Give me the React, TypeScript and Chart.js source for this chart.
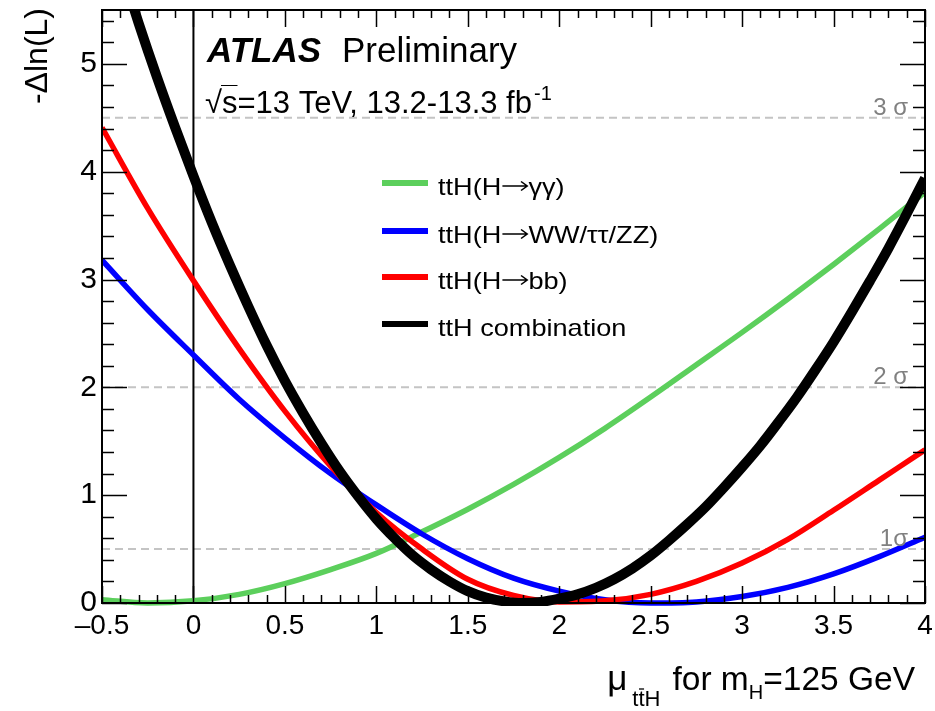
import React, { useEffect, useRef } from 'react';
import { Chart, registerables } from 'chart.js';

Chart.register(...registerables);

const FONT = '"Liberation Sans", Arial, Helvetica, sans-serif';

// Signal strength grid shared by the three channel curves
const muGrid = [-0.5, -0.25, 0, 0.25, 0.5, 0.75, 1, 1.25, 1.5, 1.75, 2, 2.25, 2.5, 2.75, 3, 3.25, 3.5, 3.75, 4];
// -Δln(L) per channel
const nllGammaGamma = [0.03, 0, 0.02, 0.08, 0.18, 0.31, 0.46, 0.66, 0.87, 1.1, 1.35, 1.62, 1.91, 2.21, 2.51, 2.82, 3.14, 3.47, 3.81];
const nllMultilepton = [3.18, 2.72, 2.3, 1.89, 1.53, 1.2, 0.91, 0.64, 0.41, 0.23, 0.11, 0.03, 0.0, 0.01, 0.06, 0.145, 0.27, 0.43, 0.61];
const nllBb = [4.41, 3.66, 2.99, 2.36, 1.78, 1.27, 0.84, 0.5, 0.22, 0.07, 0.01, 0.02, 0.08, 0.2, 0.37, 0.59, 0.86, 1.14, 1.42];

// Combination curve (finer grid)
const muComb = [-0.5, -0.4, -0.3, -0.2, -0.1, 0, 0.1, 0.2, 0.3, 0.4, 0.5, 0.6, 0.7, 0.8, 0.9, 1.0, 1.1, 1.2, 1.3, 1.4, 1.5, 1.6, 1.7, 1.8, 1.9, 2.0, 2.1, 2.2, 2.3, 2.4, 2.5, 2.6, 2.7, 2.8, 2.9, 3.0, 3.1, 3.2, 3.3, 3.4, 3.5, 3.6, 3.7, 3.8, 3.9, 4.0];
const nllComb = [6.46, 5.91, 5.38, 4.88, 4.41, 3.96, 3.53, 3.13, 2.75, 2.39, 2.06, 1.76, 1.48, 1.22, 0.99, 0.78, 0.6, 0.44, 0.31, 0.2, 0.11, 0.05, 0.015, 0.0, 0.01, 0.04, 0.08, 0.14, 0.22, 0.32, 0.44, 0.58, 0.73, 0.89, 1.07, 1.26, 1.46, 1.68, 1.91, 2.16, 2.42, 2.7, 2.99, 3.29, 3.61, 3.94];

// legend entries: [before arrow, after arrow]
const legendParts: [string, string][] = [
  ['ttH(H', '\u03b3\u03b3)'],
  ['ttH(H', 'WW/\u03c4\u03c4/ZZ)'],
  ['ttH(H', 'bb)'],
  ['ttH combination', ''],
];
const legendLabels = ['ttH(H\u2192\u03b3\u03b3)', 'ttH(H\u2192WW/\u03c4\u03c4/ZZ)', 'ttH(H\u2192bb)', 'ttH combination'];

const sigmaLevels = [0.5, 2, 4.5];
const sigmaLabels = ['1\u03c3', '2 \u03c3', '3 \u03c3'];

const xRange = [-0.5, 4];
const yRange = [0, 5.5];
const zeroLineMu = [0, 0];
const zeroLineNll = [0, 5.5];

const xTicks = [-0.5, 0, 0.5, 1, 1.5, 2, 2.5, 3, 3.5, 4];
const yTicks = [0, 1, 2, 3, 4, 5];

const GREEN = '#5ccf5c';
const BLUE = '#0000ff';
const RED = '#ff0000';
const BLACK = '#000000';

function pts(xs: number[], ys: number[]) {
  return xs.map((x, i) => ({ x, y: ys[i] }));
}

const decorPlugin = {
  id: 'atlasDecor',
  afterDatasetsDraw(chart: any) {
    const { ctx, chartArea, scales } = chart;
    const xs = scales.x;
    const ys = scales.y;
    const { left, right, top, bottom } = chartArea;
    ctx.save();

    // ticks (inward, all four sides)
    ctx.strokeStyle = '#000';
    ctx.lineWidth = 1.5;
    ctx.beginPath();
    for (let k = 0; k <= 45; k++) {
      const v = xRange[0] + k * 0.1;
      const px = Math.round(xs.getPixelForValue(v)) + 0.5;
      const major = k % 5 === 0;
      const len = major ? 17 : 8;
      ctx.moveTo(px, bottom);
      ctx.lineTo(px, bottom - len);
      ctx.moveTo(px, top);
      ctx.lineTo(px, top + len);
    }
    for (let k = 0; k <= 27; k++) {
      const v = k * 0.2;
      const py = Math.round(ys.getPixelForValue(v)) + 0.5;
      const major = k % 5 === 0;
      const len = major ? 25 : 12;
      ctx.moveTo(left, py);
      ctx.lineTo(left + len, py);
      ctx.moveTo(right, py);
      ctx.lineTo(right - len, py);
    }
    ctx.stroke();

    // frame
    ctx.lineWidth = 2;
    ctx.strokeRect(left, top, right - left, bottom - top);

    // sigma labels
    ctx.fillStyle = '#808080';
    ctx.font = `24px ${FONT}`;
    ctx.textAlign = 'right';
    ctx.textBaseline = 'alphabetic';
    sigmaLevels.forEach((lvl, i) => {
      const py = ys.getPixelForValue(lvl);
      ctx.fillText(sigmaLabels[i], right - 17, py - 3);
    });

    // ATLAS label
    ctx.fillStyle = '#000';
    ctx.textAlign = 'left';
    ctx.font = `italic bold 35px ${FONT}`;
    ctx.fillText('ATLAS', 207, 62);
    ctx.font = `35px ${FONT}`;
    ctx.fillText('Preliminary', 342, 62);

    // sqrt(s) line
    ctx.font = `31px ${FONT}`;
    let x0 = 205;
    const base2 = 113;
    ctx.fillText('\u221a', x0, base2);
    x0 += ctx.measureText('\u221a').width;
    const sW = ctx.measureText('s').width;
    ctx.lineWidth = 1;
    ctx.beginPath();
    ctx.moveTo(x0 - 1, base2 - 27.5);
    ctx.lineTo(x0 + sW, base2 - 27.5);
    ctx.stroke();
    const t2 = 's=13 TeV, 13.2-13.3 fb';
    ctx.fillText(t2, x0, base2);
    x0 += ctx.measureText(t2).width;
    ctx.font = `20px ${FONT}`;
    ctx.fillText('-1', x0 + 2, base2 - 13);

    // legend (text slightly widened as in the original rendering)
    const rowsY = [183, 231, 277, 324];
    const colors = [GREEN, BLUE, RED, BLACK];
    const SX = 1.13;
    legendParts.forEach(([a, b], i) => {
      ctx.strokeStyle = colors[i];
      ctx.lineWidth = 6;
      ctx.beginPath();
      ctx.moveTo(382, rowsY[i]);
      ctx.lineTo(428, rowsY[i]);
      ctx.stroke();
      ctx.fillStyle = '#000';
      const by = rowsY[i] + 11.5;
      ctx.save();
      ctx.translate(438, by);
      ctx.scale(SX, 1);
      let lx = 0;
      ctx.font = `24px ${FONT}`;
      ctx.fillText(a, lx, 0);
      lx += ctx.measureText(a).width;
      if (b) {
        const aw = 23;
        const ay = -8.5;
        ctx.strokeStyle = '#000';
        ctx.lineWidth = 1.4;
        ctx.beginPath();
        ctx.moveTo(lx + 1, ay);
        ctx.lineTo(lx + aw, ay);
        ctx.moveTo(lx + aw - 5.5, ay - 4.5);
        ctx.lineTo(lx + aw, ay);
        ctx.lineTo(lx + aw - 5.5, ay + 4.5);
        ctx.stroke();
        lx += aw + 1;
        ctx.fillText(b, lx, 0);
      }
      ctx.restore();
    });

    // y title
    ctx.save();
    ctx.translate(47, 8);
    ctx.rotate(-Math.PI / 2);
    ctx.textAlign = 'right';
    ctx.font = `32px ${FONT}`;
    ctx.fillStyle = '#000';
    ctx.fillText('-\u0394ln(L)', 0, 0);
    ctx.restore();

    // x title
    const segs: [string, number, number, number][] = [
      ['\u03bc', 35, 0, 5],
      ['ttH', 22, 16, 12],
      ['for m', 33.5, 0, 0],
      ['H', 20, 9, 0],
      ['=125 GeV', 33.5, 0, 0],
    ];
    let total = 0;
    segs.forEach(([t, fs, , gap]) => {
      ctx.font = `${fs}px ${FONT}`;
      total += ctx.measureText(t).width + gap;
    });
    let xx = 915 - total;
    const base = 690;
    ctx.textAlign = 'left';
    segs.forEach(([t, fs, dy, gap]) => {
      ctx.font = `${fs}px ${FONT}`;
      ctx.fillText(t, xx, base + dy);
      if (t === 'ttH') {
        const tw = ctx.measureText('t').width;
        ctx.lineWidth = 1.3;
        ctx.strokeStyle = '#000';
        ctx.beginPath();
        ctx.moveTo(xx + tw + 0.5, base + dy - 17);
        ctx.lineTo(xx + 2 * tw - 0.5, base + dy - 17);
        ctx.stroke();
      }
      xx += ctx.measureText(t).width + gap;
    });

    ctx.restore();
  },
};

export default function App() {
  const ref = useRef<HTMLCanvasElement | null>(null);

  useEffect(() => {
    document.body.style.margin = '0';
    const canvas = ref.current;
    if (!canvas) return;

    const sigmaSets = sigmaLevels.map((lvl) => ({
      label: 'level',
      data: pts(xRange, [lvl, lvl]),
      borderColor: '#c4c4c4',
      borderWidth: 2,
      borderDash: [8, 5],
      pointRadius: 0,
      tension: 0,
      order: 10,
      clip: 0,
    }));

    const curveClip = { left: 0, top: 0, right: 0, bottom: 3 };

    const chart = new Chart(canvas, {
      type: 'line',
      data: {
        datasets: [
          ...sigmaSets,
          {
            label: 'mu=0',
            data: pts(zeroLineMu, zeroLineNll),
            borderColor: '#000',
            borderWidth: 2,
            pointRadius: 0,
            order: 8,
            clip: 0,
          },
          {
            label: legendLabels[0],
            data: pts(muGrid, nllGammaGamma),
            borderColor: GREEN,
            borderWidth: 5.5,
            pointRadius: 0,
            cubicInterpolationMode: 'monotone',
            order: 4,
            clip: curveClip,
          },
          {
            label: legendLabels[1],
            data: pts(muGrid, nllMultilepton),
            borderColor: BLUE,
            borderWidth: 5.5,
            pointRadius: 0,
            cubicInterpolationMode: 'monotone',
            order: 3,
            clip: curveClip,
          },
          {
            label: legendLabels[2],
            data: pts(muGrid, nllBb),
            borderColor: RED,
            borderWidth: 5.5,
            pointRadius: 0,
            cubicInterpolationMode: 'monotone',
            order: 2,
            clip: curveClip,
          },
          {
            label: legendLabels[3],
            data: pts(muComb, nllComb),
            borderColor: BLACK,
            borderWidth: 10,
            pointRadius: 0,
            cubicInterpolationMode: 'monotone',
            order: 1,
            clip: curveClip,
          },
        ],
      } as any,
      options: {
        responsive: false,
        animation: false,
        events: [],
        layout: { padding: { left: 0, right: 10, top: 10, bottom: 0 } },
        plugins: {
          legend: { display: false },
          tooltip: { enabled: false },
        },
        scales: {
          x: {
            type: 'linear',
            min: xRange[0],
            max: xRange[1],
            grid: { display: false, drawTicks: false },
            border: { display: false },
            afterFit: (s: any) => {
              s.height = 108;
              s.paddingLeft = 0;
              s.paddingRight = 0;
            },
            afterBuildTicks: (s: any) => {
              s.ticks = xTicks.map((v) => ({ value: v }));
            },
            ticks: {
              autoSkip: false,
              maxRotation: 0,
              padding: 6,
              color: '#000',
              font: { family: FONT, size: 28 },
              callback: (v: any) => (Number(v) < 0 ? '\u2013' + String(Math.abs(Number(v))) : String(v)),
            },
          },
          y: {
            type: 'linear',
            min: yRange[0],
            max: yRange[1],
            grid: { display: false, drawTicks: false },
            border: { display: false },
            afterFit: (s: any) => {
              s.width = 102;
              s.paddingTop = 0;
              s.paddingBottom = 0;
            },
            afterBuildTicks: (s: any) => {
              s.ticks = yTicks.map((v) => ({ value: v }));
            },
            ticks: {
              autoSkip: false,
              padding: 5,
              color: '#000',
              font: { family: FONT, size: 30 },
              callback: (v: any) => String(v),
            },
          },
        },
      } as any,
      plugins: [decorPlugin],
    });

    return () => chart.destroy();
  }, []);

  return (
    <div style={{ width: 935, height: 711, background: '#fff' }}>
      <canvas ref={ref} width={935} height={711} style={{ display: 'block' }} />
    </div>
  );
}
